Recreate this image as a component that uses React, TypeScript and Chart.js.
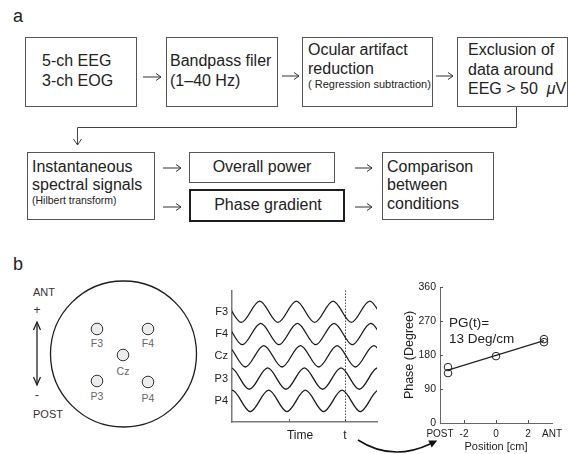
import React, { useEffect, useRef } from 'react';
import { Chart, registerables } from 'chart.js';

Chart.register(...registerables);

const FONT = '"Liberation Sans", Arial, Helvetica, sans-serif';

// ---------- Panel b (middle): EEG traces — times (ms) of peaks / troughs
const channelNames = ['F3', 'F4', 'Cz', 'P3', 'P4'];
const channelOffsets = [4, 3, 2, 1, 0];
const waveAmplitude = 0.48;
const f3Peaks = [-62, 191, 444, 697, 950, 1203];
const f3Troughs = [-188, 64, 317, 570, 823, 1076];
const f4Peaks = [-55, 198, 451, 704, 957, 1210];
const f4Troughs = [-181, 71, 324, 577, 830, 1083];
const czPeaks = [-34, 219, 472, 725, 978, 1231];
const czTroughs = [-161, 92, 345, 598, 851, 1104];
const p3Peaks = [-7, 246, 499, 752, 1005];
const p3Troughs = [-133, 119, 372, 625, 878, 1131];
const p4Peaks = [0, 253, 506, 759, 1012];
const p4Troughs = [-126, 126, 379, 632, 885, 1138];
const timeTicks = [393, 469, 779];
const timeTickLabels = ['', 'Time', 't'];
const timeTickMarks = [393, 779];
const markerTime = 779;

// ---------- Panel b (right): phase vs electrode position
const electrodePositions = [-3, -3, 0, 3, 3];
const electrodePhases = [148, 132, 177, 222, 214];
const fitPositions = [-3, 3];
const fitPhases = [140, 218];
const positionTicks = [-3.5, -2, 0, 2, 3.5];
const positionTickLabels = ['POST', '-2', '0', '2', 'ANT'];
const positionTickMarks = [-2, 0, 2];
const phaseTickMarks = [90, 180, 270, 360];

const tracePeaks = [f3Peaks, f4Peaks, czPeaks, p3Peaks, p4Peaks];
const traceTroughs = [f3Troughs, f4Troughs, czTroughs, p3Troughs, p4Troughs];

function makeTrace(peaks: number[], troughs: number[], offset: number) {
  return [
    ...peaks.map((t) => ({ x: t, y: offset + waveAmplitude })),
    ...troughs.map((t) => ({ x: t, y: offset - waveAmplitude })),
  ].sort((a, b) => a.x - b.x);
}

const axisExtras = {
  id: 'axisExtras',
  afterDatasetsDraw(chart: any, _args: any, opts: any) {
    const { ctx, chartArea } = chart;
    const xs = chart.scales.x;
    const ys = chart.scales.y;
    const len = opts.length || 3;
    ctx.save();
    ctx.strokeStyle = opts.color || '#555';
    ctx.lineWidth = 1;
    (opts.xMarks || []).forEach((v: number) => {
      const px = Math.round(xs.getPixelForValue(v)) + 0.5;
      ctx.beginPath();
      ctx.moveTo(px, chartArea.bottom);
      ctx.lineTo(px, chartArea.bottom - len);
      ctx.stroke();
    });
    (opts.yMarks || []).forEach((v: number) => {
      const py = Math.round(ys.getPixelForValue(v)) + 0.5;
      ctx.beginPath();
      ctx.moveTo(chartArea.left, py);
      ctx.lineTo(chartArea.left + len, py);
      ctx.stroke();
    });
    if (opts.markerX !== undefined) {
      const px = Math.round(xs.getPixelForValue(opts.markerX)) + 0.5;
      ctx.setLineDash([1.2, 1.8]);
      ctx.strokeStyle = '#222';
      ctx.beginPath();
      ctx.moveTo(px, chartArea.top);
      ctx.lineTo(px, chartArea.bottom);
      ctx.stroke();
    }
    ctx.restore();
  },
};

function waveConfig(): any {
  return {
    type: 'line',
    data: {
      datasets: channelNames.map((name, i) => ({
        label: name,
        data: makeTrace(tracePeaks[i], traceTroughs[i], channelOffsets[i]),
        borderColor: '#1a1a1a',
        borderWidth: 1.3,
        pointRadius: 0,
        fill: false,
        cubicInterpolationMode: 'monotone',
      })),
    },
    options: {
      animation: false,
      responsive: false,
      maintainAspectRatio: false,
      events: [],
      layout: { padding: { left: 0, top: 6, right: 3, bottom: 0 } },
      plugins: {
        legend: { display: false },
        tooltip: { enabled: false },
        axisExtras: { xMarks: timeTickMarks, markerX: markerTime, color: '#666', length: 3 },
      },
      scales: {
        x: {
          type: 'linear',
          min: 0,
          max: 1000,
          grid: { display: false, drawTicks: false },
          border: { display: true, color: '#7a7a7a', width: 1.5 },
          afterBuildTicks: (s: any) => {
            s.ticks = timeTicks.map((v) => ({ value: v }));
          },
          afterFit: (s: any) => {
            s.height = 28;
          },
          ticks: {
            autoSkip: false,
            maxRotation: 0,
            padding: 6,
            color: '#222',
            font: { family: FONT, size: 12 },
            callback: (_v: any, i: number) => timeTickLabels[i],
          },
        },
        y: {
          type: 'linear',
          min: -0.95,
          max: 4.95,
          grid: { display: false, drawTicks: false },
          border: { display: true, color: '#7a7a7a', width: 1.5 },
          afterBuildTicks: (s: any) => {
            s.ticks = channelOffsets.map((v) => ({ value: v }));
          },
          afterFit: (s: any) => {
            s.width = 52;
          },
          ticks: {
            autoSkip: false,
            padding: 4,
            color: '#222',
            font: { family: FONT, size: 11 },
            callback: (_v: any, i: number) => channelNames[i],
          },
        },
      },
    },
    plugins: [axisExtras],
  };
}

function phaseConfig(): any {
  return {
    type: 'scatter',
    data: {
      datasets: [
        {
          type: 'scatter',
          label: 'electrodes',
          data: electrodePositions.map((x, i) => ({ x, y: electrodePhases[i] })),
          pointRadius: 3.8,
          pointBorderWidth: 1,
          pointBorderColor: '#222',
          pointBackgroundColor: 'rgba(0,0,0,0)',
          showLine: false,
        },
        {
          type: 'line',
          label: 'fit',
          data: fitPositions.map((x, i) => ({ x, y: fitPhases[i] })),
          borderColor: '#222',
          borderWidth: 1.1,
          pointRadius: 0,
          fill: false,
        },
      ],
    },
    options: {
      animation: false,
      responsive: false,
      maintainAspectRatio: false,
      events: [],
      layout: { padding: { left: 22, top: 17, right: 17, bottom: 0 } },
      plugins: {
        legend: { display: false },
        tooltip: { enabled: false },
        axisExtras: { xMarks: positionTickMarks, yMarks: phaseTickMarks, color: '#555', length: 3 },
      },
      scales: {
        x: {
          type: 'linear',
          min: -3.5,
          max: 3.5,
          grid: { display: false, drawTicks: false },
          border: { display: true, color: '#666', width: 1 },
          afterBuildTicks: (s: any) => {
            s.ticks = positionTicks.map((v) => ({ value: v }));
          },
          afterFit: (s: any) => {
            s.height = 31;
          },
          ticks: {
            autoSkip: false,
            maxRotation: 0,
            padding: 5,
            color: '#222',
            font: { family: FONT, size: 10 },
            callback: (_v: any, i: number) => positionTickLabels[i],
          },
          title: {
            display: true,
            text: 'Position [cm]',
            color: '#222',
            font: { family: FONT, size: 11 },
            padding: { top: 0, bottom: 0 },
          },
        },
        y: {
          type: 'linear',
          min: 0,
          max: 360,
          grid: { display: false, drawTicks: false },
          border: { display: true, color: '#666', width: 1 },
          afterFit: (s: any) => {
            s.width = 38;
          },
          ticks: {
            stepSize: 90,
            padding: 4,
            color: '#222',
            font: { family: FONT, size: 10.5 },
          },
          title: {
            display: true,
            text: 'Phase (Degree)',
            color: '#222',
            font: { family: FONT, size: 12.5 },
            padding: { top: 0, bottom: 0 },
          },
        },
      },
    },
    plugins: [axisExtras],
  };
}

function Txt(props: {
  x: number;
  y: number;
  size: number;
  children: any;
  center?: boolean;
  color?: string;
}) {
  const { x, y, size, children, center, color } = props;
  return (
    <div
      style={{
        position: 'absolute',
        left: x,
        top: y - size * 0.8465,
        fontSize: size,
        lineHeight: 1,
        whiteSpace: 'nowrap',
        color: color || '#222',
        transform: center ? 'translateX(-50%)' : undefined,
      }}
    >
      {children}
    </div>
  );
}

function Box(props: { l: number; t: number; r: number; b: number; w?: number }) {
  const { l, t, r, b, w } = props;
  return (
    <div
      style={{
        position: 'absolute',
        left: l,
        top: t,
        width: r - l,
        height: b - t,
        boxSizing: 'border-box',
        border: `${w || 1}px solid ${w ? '#1e1e1e' : '#555'}`,
      }}
    />
  );
}

function HArrow(props: { x1: number; x2: number; y: number }) {
  const { x1, x2, y } = props;
  return (
    <g stroke="#333" strokeWidth={1} fill="none">
      <line x1={x1} y1={y} x2={x2} y2={y} />
      <polyline points={`${x2 - 5},${y - 3.5} ${x2},${y} ${x2 - 5},${y + 3.5}`} />
    </g>
  );
}

function curvedArrowHead() {
  const cx = 392, cy = 462, ex = 430, ey = 444;
  const dx = ex - cx, dy = ey - cy;
  const n = Math.hypot(dx, dy);
  const ux = dx / n, uy = dy / n;
  const px = -uy, py = ux;
  const tipX = ex + ux * 8, tipY = ey + uy * 8;
  return `${tipX},${tipY} ${ex + px * 4},${ey + py * 4} ${ex - px * 4},${ey - py * 4}`;
}

export default function App() {
  const waveRef = useRef<HTMLCanvasElement>(null);
  const phaseRef = useRef<HTMLCanvasElement>(null);

  useEffect(() => {
    const wave = new Chart(waveRef.current as HTMLCanvasElement, waveConfig());
    const phase = new Chart(phaseRef.current as HTMLCanvasElement, phaseConfig());
    return () => {
      wave.destroy();
      phase.destroy();
    };
  }, []);

  return (
    <div
      style={{
        position: 'fixed',
        left: 0,
        top: 0,
        width: 569,
        height: 454,
        background: '#fff',
        overflow: 'hidden',
        fontFamily: FONT,
        color: '#222',
      }}
    >
      <svg width={569} height={454} style={{ position: 'absolute', left: 0, top: 0 }}>
        {/* flowchart arrows */}
        <HArrow x1={143} x2={161} y={77} />
        <HArrow x1={282} x2={299} y={76} />
        <HArrow x1={436} x2={453} y={76} />
        <HArrow x1={163} x2={181} y={168} />
        <HArrow x1={163} x2={181} y={207} />
        <HArrow x1={355} x2={372} y={168} />
        <HArrow x1={355} x2={372} y={207} />
        <g stroke="#444" strokeWidth={1} fill="none">
          <polyline points="516.5,107 516.5,127.5 77.5,127.5 77.5,145" />
          <polyline points="73.5,139 77.5,145 81.5,139" />
        </g>
        {/* head */}
        <circle cx={123.5} cy={354} r={73} fill="none" stroke="#1e1e1e" strokeWidth={1.3} />
        {[
          [97, 329],
          [148, 329],
          [123, 355],
          [97, 381],
          [148, 382],
        ].map(([x, y], i) => (
          <circle key={i} cx={x} cy={y} r={5.8} fill="#ececec" stroke="#333" strokeWidth={1} />
        ))}
        <g stroke="#222" strokeWidth={1.3} fill="none">
          <line x1={37} y1={322} x2={37} y2={385} />
          <polyline points="33.5,330 37,322 40.5,330" />
          <polyline points="33.5,377 37,385 40.5,377" />
        </g>
      </svg>

      {/* flowchart boxes */}
      <Box l={25} t={37} r={137} b={107} />
      <Box l={166} t={37} r={278} b={107} />
      <Box l={302} t={37} r={433} b={107} />
      <Box l={457} t={37} r={568} b={107} />
      <Box l={27} t={152} r={155} b={220} />
      <Box l={189} t={152} r={335} b={183} />
      <Box l={189} t={189} r={345} b={222} w={2.5} />
      <Box l={382} t={152} r={494} b={220} />

      <Txt x={13} y={22} size={18}>a</Txt>
      <Txt x={42} y={67} size={16}>5-ch EEG</Txt>
      <Txt x={42} y={87} size={16}>3-ch EOG</Txt>
      <Txt x={170} y={67} size={16}>Bandpass filer</Txt>
      <Txt x={170} y={87} size={16}>(1–40 Hz)</Txt>
      <Txt x={308} y={56} size={16}>Ocular artifact</Txt>
      <Txt x={308} y={75} size={16}>reduction</Txt>
      <Txt x={308} y={88} size={11}>( Regression subtraction)</Txt>
      <Txt x={468} y={56} size={16}>Exclusion of</Txt>
      <Txt x={468} y={75.5} size={16}>data around</Txt>
      <Txt x={468} y={95} size={16}>
        EEG &gt; 50&nbsp;&nbsp;<i>μ</i>V
      </Txt>
      <Txt x={32} y={173} size={16}>Instantaneous</Txt>
      <Txt x={32} y={191} size={16}>spectral signals</Txt>
      <Txt x={32} y={204} size={10.5}>(Hilbert transform)</Txt>
      <Txt x={262} y={173} size={16} center>Overall power</Txt>
      <Txt x={268} y={211} size={16} center>Phase gradient</Txt>
      <Txt x={387} y={173} size={16}>Comparison</Txt>
      <Txt x={387} y={191} size={16}>between</Txt>
      <Txt x={387} y={210} size={16}>conditions</Txt>

      {/* panel b left */}
      <Txt x={13} y={270} size={18}>b</Txt>
      <Txt x={33} y={296} size={11} color="#333">ANT</Txt>
      <Txt x={37} y={314} size={12} center color="#333">+</Txt>
      <Txt x={37} y={399} size={12} center color="#333">-</Txt>
      <Txt x={33} y={418} size={11} color="#333">POST</Txt>
      <Txt x={97} y={347} size={10.5} center color="#666">F3</Txt>
      <Txt x={148} y={347} size={10.5} center color="#666">F4</Txt>
      <Txt x={123} y={375} size={10.5} center color="#666">Cz</Txt>
      <Txt x={97} y={400} size={10.5} center color="#666">P3</Txt>
      <Txt x={148} y={402} size={10.5} center color="#666">P4</Txt>

      <canvas
        ref={waveRef}
        width={200}
        height={170}
        style={{ position: 'absolute', left: 180, top: 280, width: 200, height: 170 }}
      />
      <canvas
        ref={phaseRef}
        width={189}
        height={184}
        style={{ position: 'absolute', left: 380, top: 270, width: 189, height: 184 }}
      />

      <Txt x={449} y={327} size={13.5}>PG(t)=</Txt>
      <Txt x={449} y={343} size={13.5}>13 Deg/cm</Txt>

      <svg
        width={569}
        height={454}
        style={{ position: 'absolute', left: 0, top: 0, pointerEvents: 'none' }}
      >
        <path d="M358 440 Q392 462 430 444" fill="none" stroke="#111" strokeWidth={1.5} />
        <polygon points={curvedArrowHead()} fill="#111" />
      </svg>
    </div>
  );
}
